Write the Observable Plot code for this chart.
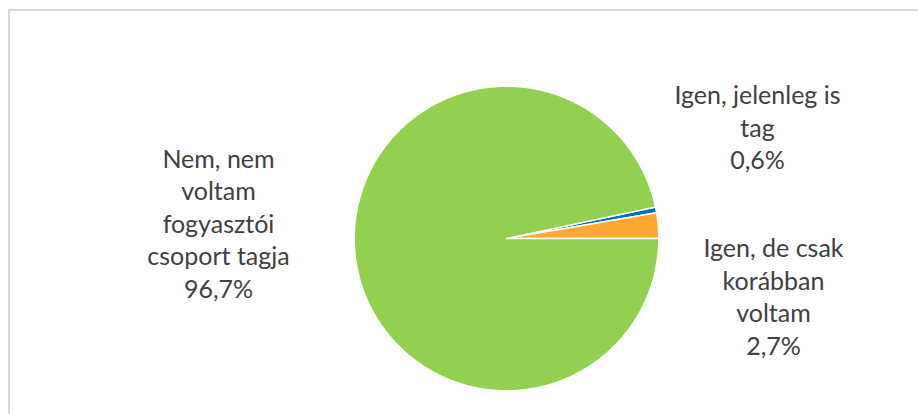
<!DOCTYPE html>
<html>
<head>
<meta charset="utf-8">
<script src="https://cdn.jsdelivr.net/npm/d3@7"></script>
<script src="https://cdn.jsdelivr.net/npm/@observablehq/plot@0.6"></script>
<style>
  html, body { margin: 0; padding: 0; background: #fff; overflow: hidden; }
  #wrap { position: relative; width: 918px; height: 414px; }
  #border { position: absolute; left: 8px; top: 9px; width: 1000px; height: 1000px;
            border-left: 2.5px solid #d9d9d9; border-top: 2.5px solid #d9d9d9; box-sizing: border-box; }
  #chart { position: absolute; left: 0; top: 0; }
</style>
</head>
<body>
<div id="wrap"><div id="border"></div><div id="chart"></div></div>
<script>
// ---- data ----
const categories = ["Igen, jelenleg is tag", "Igen, de csak korábban voltam", "Nem, nem voltam fogyasztói csoport tagja"];
const values = [0.6, 2.7, 96.7];
const labelTexts = ["Igen, jelenleg is\ntag\n0,6%", "Igen, de csak\nkorábban\nvoltam\n2,7%", "Nem, nem\nvoltam\nfogyasztói\ncsoport tagja\n96,7%"];
const colors = ["#0070C0", "#FFA733", "#92D050"];

// ---- layout ----
const W = 918, H = 414;
const cx = 506, cy = 238, r = 152.3;           // pie centre / radius in pixels
const firstSliceAngle = 78.1;                  // degrees clockwise from 12 o'clock
const labelPos = [[757, 126], [773, 295], [218, 222]]; // label block centres (px)

// build slice polygons (unit circle, y up) from the values
const pie = d3.pie().sort(null).value(d => d.v)
  .startAngle(firstSliceAngle * Math.PI / 180)
  .endAngle(firstSliceAngle * Math.PI / 180 + 2 * Math.PI);
const arcs = pie(values.map((v, i) => ({cat: categories[i], v})));
const pts = [];
arcs.forEach(a => {
  const cat = a.data.cat;
  pts.push({cat, x: 0, y: 0});
  const n = Math.max(2, Math.ceil((a.endAngle - a.startAngle) / 0.01));
  for (let k = 0; k <= n; k++) {
    const t = a.startAngle + (a.endAngle - a.startAngle) * k / n;
    pts.push({cat, x: Math.sin(t), y: Math.cos(t)});
  }
});
const labels = categories.map((c, i) => ({
  cat: c, text: labelTexts[i],
  x: (labelPos[i][0] - cx) / r, y: (cy - labelPos[i][1]) / r
}));

const chart = Plot.plot({
  width: W, height: H,
  margin: 0,
  x: {domain: [(0 - cx) / r, (W - cx) / r], axis: null},
  y: {domain: [(cy - H) / r, cy / r], axis: null},
  color: {domain: categories, range: colors},
  style: {background: "transparent"},
  marks: [
    Plot.line(pts, {x: "x", y: "y", z: "cat", fill: "cat", stroke: "white", strokeWidth: 1.5, curve: "linear-closed"}),
    Plot.text(labels, {x: "x", y: "y", text: "text", textAnchor: "middle", lineAnchor: "middle",
      lineHeight: 1.3, fontSize: 25, fill: "#404040", fontFamily: "Lato"})
  ]
});
document.getElementById("chart").appendChild(chart);
</script>
</body>
</html>
